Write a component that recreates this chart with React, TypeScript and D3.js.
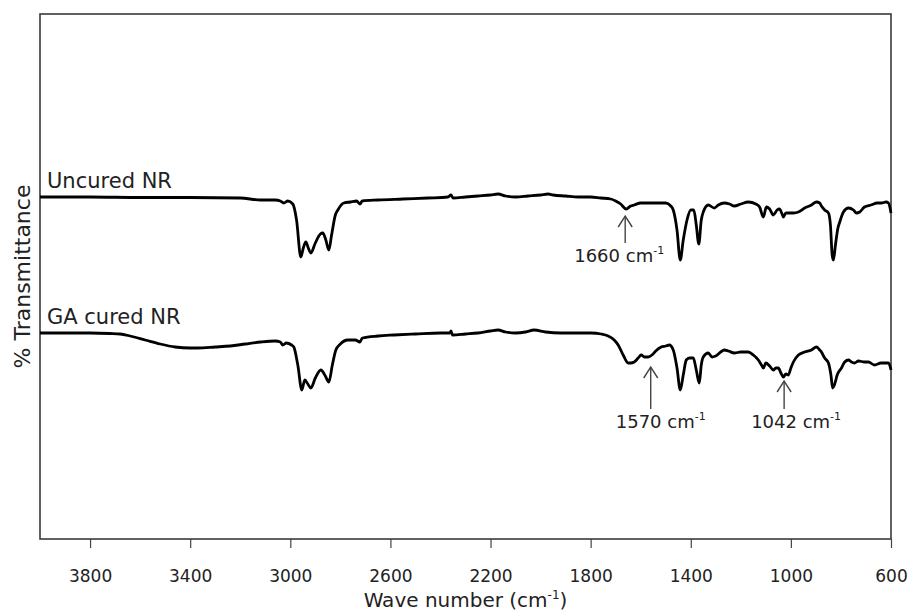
import { useEffect, useRef } from "react";
import * as d3 from "d3";

// wavenumber (cm-1), % transmittance (offset traces)
const uncuredNR: [number, number][] = [
  [4000, 68.4], [3800, 68.4], [3600, 68.3], [3400, 68.3], [3200, 68.2], [3118, 67.8], [3060, 67.8],
  [3040, 67.6], [3026, 67.2], [3010, 67.6], [2990, 67.0], [2975, 63.8], [2958, 56.4], [2948, 58.2],
  [2938, 59.4], [2928, 58.2], [2918, 57.2], [2900, 59.2], [2880, 61.0], [2870, 61.2], [2858, 59.8],
  [2846, 57.8], [2835, 60.8], [2820, 64.8], [2810, 65.8], [2786, 67.2], [2760, 67.4], [2735, 67.6],
  [2722, 67.0], [2712, 67.6], [2650, 67.8], [2550, 68.0], [2450, 68.2], [2370, 68.4], [2358, 68.8],
  [2350, 68.2], [2300, 68.4], [2250, 68.6], [2200, 68.8], [2170, 69.0], [2140, 68.6], [2100, 68.4],
  [2050, 68.6], [2000, 68.8], [1970, 69.0], [1950, 68.8], [1900, 68.6], [1850, 68.4], [1800, 68.4],
  [1760, 68.2], [1720, 68.0], [1700, 67.6], [1680, 67.0], [1658, 66.0], [1640, 66.6], [1626, 66.8],
  [1600, 67.2], [1550, 67.2], [1500, 67.2], [1480, 66.6], [1470, 65.8], [1455, 61.8], [1442, 55.8],
  [1430, 59.8], [1415, 63.8], [1400, 65.8], [1388, 65.8], [1378, 62.8], [1368, 59.0], [1358, 63.8],
  [1350, 65.4], [1330, 66.8], [1306, 66.2], [1290, 66.8], [1266, 67.2], [1245, 67.0], [1226, 66.6],
  [1200, 67.0], [1170, 67.4], [1140, 67.0], [1125, 66.4], [1110, 64.4], [1098, 66.4], [1085, 66.0],
  [1070, 64.8], [1055, 65.8], [1046, 66.0], [1035, 65.0], [1030, 64.4], [1020, 65.2], [1010, 65.2],
  [990, 65.2], [970, 65.4], [945, 66.2], [918, 66.8], [898, 67.4], [885, 67.2], [878, 66.6],
  [865, 65.8], [850, 65.2], [842, 62.8], [835, 56.8], [830, 55.8], [822, 58.8], [812, 62.2],
  [806, 63.2], [790, 65.4], [770, 66.2], [750, 65.8], [738, 65.2], [725, 65.4], [706, 66.4],
  [680, 66.8], [655, 67.2], [638, 67.2], [620, 67.4], [610, 67.2], [600, 65.2]
];

const gaCuredNR: [number, number][] = [
  [4000, 41.2], [3900, 41.2], [3800, 41.2], [3720, 41.1], [3680, 41.0], [3640, 40.6], [3580, 39.8],
  [3520, 39.0], [3460, 38.4], [3400, 38.2], [3370, 38.2], [3300, 38.4], [3240, 38.6], [3180, 39.0],
  [3118, 39.4], [3060, 39.6], [3040, 39.4], [3030, 38.8], [3016, 39.2], [2995, 38.8], [2986, 38.4],
  [2970, 34.8], [2954, 29.8], [2942, 31.8], [2930, 31.0], [2918, 30.2], [2900, 32.2], [2878, 33.8],
  [2860, 32.6], [2846, 31.4], [2832, 34.8], [2818, 37.8], [2800, 39.0], [2770, 39.8], [2740, 39.8],
  [2722, 39.4], [2712, 40.2], [2650, 40.6], [2586, 40.8], [2500, 41.0], [2400, 41.2], [2362, 41.2],
  [2358, 41.6], [2352, 40.8], [2300, 41.0], [2250, 41.2], [2200, 41.6], [2170, 41.8], [2140, 41.4],
  [2100, 41.2], [2060, 41.4], [2026, 41.8], [1980, 41.4], [1918, 41.2], [1850, 41.2], [1798, 41.2],
  [1758, 41.0], [1730, 40.6], [1706, 39.8], [1690, 38.8], [1670, 36.8], [1650, 35.2], [1640, 35.2],
  [1626, 35.4], [1610, 36.2], [1598, 36.8], [1585, 36.4], [1570, 36.4], [1555, 36.8], [1540, 37.6],
  [1518, 38.4], [1500, 38.6], [1486, 38.8], [1470, 37.8], [1455, 34.2], [1442, 29.8], [1430, 32.8],
  [1418, 35.8], [1405, 36.2], [1390, 36.2], [1378, 33.8], [1366, 31.2], [1358, 34.8], [1350, 36.4],
  [1330, 37.2], [1315, 36.4], [1300, 36.6], [1266, 37.8], [1250, 37.6], [1226, 37.2], [1200, 37.4],
  [1170, 37.4], [1150, 36.8], [1130, 35.8], [1115, 34.6], [1110, 34.2], [1100, 35.2], [1085, 34.6],
  [1070, 33.8], [1060, 34.2], [1050, 34.2], [1040, 33.2], [1030, 32.4], [1020, 33.0], [1010, 32.8],
  [1000, 34.2], [990, 35.4], [970, 36.8], [945, 37.4], [918, 37.8], [898, 38.4], [885, 37.8],
  [878, 37.4], [865, 36.2], [850, 35.2], [840, 32.8], [833, 30.2], [826, 30.8], [815, 32.8],
  [798, 34.2], [785, 35.4], [770, 35.8], [758, 35.4], [746, 35.2], [730, 35.6], [706, 35.4],
  [690, 35.4], [666, 34.8], [640, 35.2], [610, 35.2], [600, 33.8]
];

const seriesNames = ["Uncured NR", "GA cured NR"];
const xTicks = [3800, 3400, 3000, 2600, 2200, 1800, 1400, 1000, 600];

// arrow: wavenumber, tip, tail, label baseline (same y units), label text
const peakWave = [1662, 1560, 1027];
const peakTip = [64.6, 34.4, 31.6];
const peakTail = [59.2, 26.0, 26.0];
const peakLabelY = [55.4, 22.2, 22.2];
const peakLabels = ["1660", "1570", "1042"];
const peakLabelDx = [-6, 10, 12];

const W = 910;
const H = 615;
const FONT = "'DejaVu Sans', Verdana, sans-serif";

const App = () => {
  const svgRef = useRef<SVGSVGElement>(null);

  useEffect(() => {
    const svg = d3.select(svgRef.current);
    svg.selectAll("*").remove();

    const x = d3.scaleLinear().domain([4000, 600]).range([40, 891]);
    const y = d3.scaleLinear().domain([0, 105]).range([539, 14]);

    // frame
    svg.append("rect")
      .attr("x", x(4000)).attr("y", y(105))
      .attr("width", x(600) - x(4000)).attr("height", y(0) - y(105))
      .attr("fill", "none").attr("stroke", "#3a3a3a").attr("stroke-width", 1.6);

    const xAxis = svg.append("g")
      .attr("transform", `translate(0,${y(0)})`)
      .call(d3.axisBottom(x).tickValues(xTicks).tickSize(9).tickPadding(22).tickFormat(d3.format("d")));
    xAxis.select(".domain").remove();
    xAxis.selectAll(".tick line").attr("stroke", "#444").attr("stroke-width", 1.2);
    xAxis.selectAll(".tick text")
      .attr("fill", "#222").style("font-family", FONT).style("font-size", "17px");

    const line = d3.line<[number, number]>()
      .x(d => x(d[0]))
      .y(d => y(d[1]))
      .curve(d3.curveMonotoneX);

    [uncuredNR, gaCuredNR].forEach((s, i) => {
      svg.append("path")
        .attr("d", line(s))
        .attr("fill", "none")
        .attr("stroke", "#000")
        .attr("stroke-width", 2.8)
        .attr("stroke-linejoin", "round");

      svg.append("text")
        .attr("x", x(4000) + 7)
        .attr("y", y(s[0][1]) - 9)
        .attr("fill", "#222")
        .style("font-family", FONT)
        .style("font-size", "21px")
        .text(seriesNames[i]);
    });

    // peak arrows
    peakWave.forEach((w, i) => {
      const px = x(w);
      const g = svg.append("g").attr("stroke", "#444").attr("stroke-width", 1.4).attr("fill", "none");
      g.append("line").attr("x1", px).attr("x2", px).attr("y1", y(peakTip[i])).attr("y2", y(peakTail[i]));
      g.append("path").attr("d", `M${px - 7},${y(peakTip[i]) + 11}L${px},${y(peakTip[i])}L${px + 7},${y(peakTip[i]) + 11}`);

      const t = svg.append("text")
        .attr("x", px + peakLabelDx[i])
        .attr("y", y(peakLabelY[i]))
        .attr("text-anchor", "middle")
        .attr("fill", "#222")
        .style("font-family", FONT)
        .style("font-size", "18px");
      t.append("tspan").text(`${peakLabels[i]} cm`);
      t.append("tspan").attr("dy", -8).style("font-size", "11px").text("-1");
    });

    // axis titles
    const xt = svg.append("text")
      .attr("x", (x(4000) + x(600)) / 2)
      .attr("y", 607)
      .attr("text-anchor", "middle")
      .attr("fill", "#222")
      .style("font-family", FONT)
      .style("font-size", "20px");
    xt.append("tspan").text("Wave number (cm");
    xt.append("tspan").attr("dy", -8).style("font-size", "12px").text("-1");
    xt.append("tspan").attr("dy", 8).text(")");

    svg.append("text")
      .attr("transform", `translate(30,${(y(0) + y(105)) / 2}) rotate(-90)`)
      .attr("text-anchor", "middle")
      .attr("fill", "#222")
      .style("font-family", FONT)
      .style("font-size", "22px")
      .text("% Transmittance");
  }, []);

  return (
    <svg
      ref={svgRef}
      width={W}
      height={H}
      style={{ position: "absolute", left: 0, top: 0, background: "#fff" }}
    ></svg>
  );
};

export default App;
